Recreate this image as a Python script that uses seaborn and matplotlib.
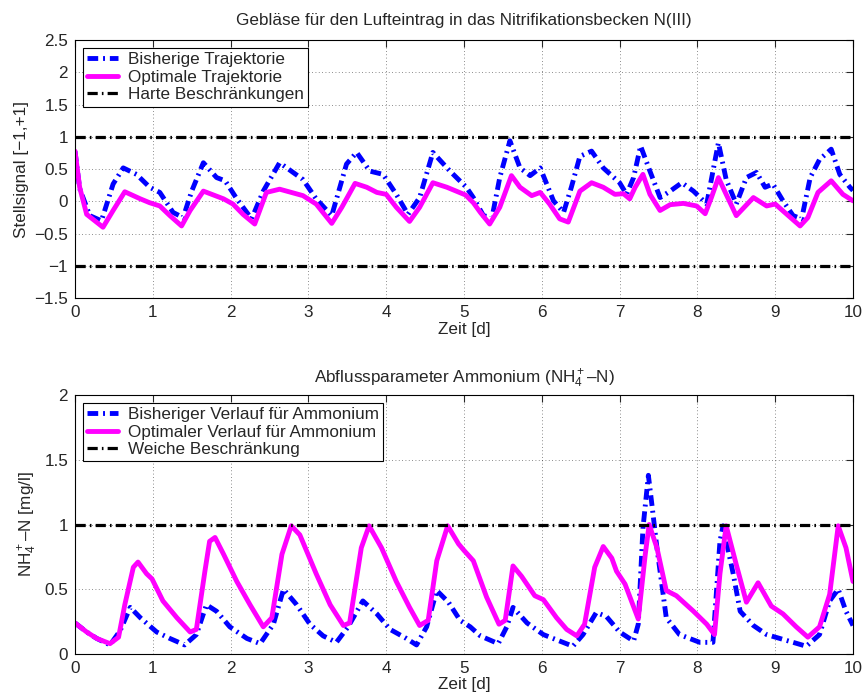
import numpy as np
import pandas as pd
import matplotlib
matplotlib.use("Agg")
import matplotlib.pyplot as plt
import seaborn as sns

# --- oberes Bild: Stellsignal Geblaese ---
t_bish_top = [0, 0.06, 0.19, 0.34, 0.49, 0.62, 0.79, 0.96, 1.09, 1.26, 1.39, 1.50, 1.65, 1.82, 1.93,
              2.08, 2.27, 2.42, 2.63, 2.93, 3.10, 3.30, 3.49, 3.62, 3.79, 3.96, 4.13, 4.28, 4.43,
              4.60, 4.82, 5.03, 5.12, 5.25, 5.36, 5.46, 5.59, 5.72, 5.85, 5.98, 6.15, 6.28, 6.38,
              6.49, 6.64, 6.79, 7.00, 7.09, 7.18, 7.27, 7.39, 7.52, 7.65, 7.80, 7.95, 8.12, 8.20,
              8.27, 8.37, 8.50, 8.63, 8.76, 8.87, 8.97, 9.10, 9.23, 9.34, 9.45, 9.57, 9.72, 9.83,
              9.96, 10.0]
u_bish_top = [0.78, 0.20, -0.22, -0.30, 0.27, 0.52, 0.42, 0.22, 0.14, -0.17, -0.25, 0.16, 0.60, 0.37,
              0.32, 0.04, -0.27, 0.16, 0.60, 0.34, 0.04, -0.22, 0.58, 0.76, 0.47, 0.42, 0.11, -0.20,
              0.06, 0.76, 0.47, 0.22, 0.06, -0.22, -0.25, 0.37, 0.94, 0.52, 0.40, 0.52, 0.01, -0.17,
              0.22, 0.70, 0.78, 0.52, 0.29, 0.11, 0.37, 0.86, 0.47, 0.06, 0.16, 0.29, 0.16, -0.04,
              0.47, 0.91, 0.34, -0.04, 0.37, 0.45, 0.22, 0.27, 0.01, -0.22, -0.27, 0.37, 0.65, 0.81,
              0.42, 0.22, 0.17]

t_opt_top = [0, 0.06, 0.15, 0.36, 0.49, 0.64, 0.84, 0.96, 1.09, 1.22, 1.37, 1.48, 1.65, 1.91, 2.03,
             2.16, 2.31, 2.46, 2.63, 2.93, 3.10, 3.30, 3.43, 3.60, 3.75, 3.88, 4.00, 4.13, 4.30,
             4.43, 4.60, 4.78, 4.90, 5.02, 5.12, 5.21, 5.33, 5.46, 5.61, 5.72, 5.87, 5.98, 6.10,
             6.23, 6.34, 6.49, 6.64, 6.79, 6.94, 7.05, 7.13, 7.20, 7.30, 7.39, 7.52, 7.65, 7.82,
             7.99, 8.10, 8.18, 8.27, 8.37, 8.50, 8.72, 8.89, 9.00, 9.15, 9.32, 9.42, 9.55, 9.72,
             9.87, 10.0]
u_opt_top = [0.78, 0.22, -0.20, -0.40, -0.14, 0.15, 0.04, -0.02, -0.07, -0.22, -0.38, -0.14, 0.16,
             0.04, -0.04, -0.20, -0.35, 0.14, 0.19, 0.09, -0.04, -0.34, -0.09, 0.28, 0.22, 0.14,
             0.11, -0.09, -0.31, -0.09, 0.29, 0.22, 0.16, 0.10, -0.02, -0.17, -0.35, -0.09, 0.40,
             0.22, 0.09, 0.14, -0.04, -0.27, -0.32, 0.16, 0.29, 0.22, 0.11, 0.12, 0.04, 0.22, 0.42,
             0.11, -0.14, -0.05, -0.03, -0.07, -0.19, 0.06, 0.37, 0.11, -0.22, 0.06, -0.07, -0.04,
             -0.20, -0.38, -0.25, 0.14, 0.32, 0.11, 0.01]

grenze_hart = [-1, 1]

# --- unteres Bild: Ammonium ---
t_bish_nh4 = [0, 0.15, 0.28, 0.45, 0.58, 0.71, 0.84, 1.05, 1.22, 1.41, 1.56, 1.69, 1.82, 1.99, 2.21,
              2.38, 2.55, 2.68, 2.85, 3.02, 3.19, 3.36, 3.51, 3.70, 3.88, 4.05, 4.26, 4.39, 4.52,
              4.65, 4.80, 4.95, 5.08, 5.21, 5.44, 5.55, 5.63, 5.81, 6.02, 6.23, 6.40, 6.53, 6.70,
              6.83, 7.00, 7.18, 7.24, 7.30, 7.37, 7.42, 7.48, 7.60, 7.77, 8.03, 8.20, 8.29, 8.33,
              8.46, 8.55, 8.72, 8.89, 9.06, 9.40, 9.57, 9.70, 9.81, 9.91, 10.0]
c_bish_nh4 = [0.24, 0.17, 0.12, 0.07, 0.18, 0.36, 0.28, 0.17, 0.12, 0.07, 0.15, 0.38, 0.33, 0.21,
              0.12, 0.08, 0.23, 0.50, 0.38, 0.23, 0.14, 0.09, 0.21, 0.41, 0.31, 0.19, 0.12, 0.07,
              0.21, 0.49, 0.40, 0.26, 0.21, 0.14, 0.08, 0.21, 0.36, 0.24, 0.15, 0.10, 0.06, 0.15,
              0.32, 0.29, 0.17, 0.10, 0.23, 0.97, 1.38, 1.13, 0.82, 0.28, 0.15, 0.09, 0.09, 0.87,
              0.99, 0.62, 0.33, 0.22, 0.15, 0.12, 0.06, 0.15, 0.41, 0.50, 0.33, 0.22]

t_opt_nh4 = [0, 0.15, 0.28, 0.45, 0.56, 0.64, 0.75, 0.81, 0.92, 0.99, 1.13, 1.31, 1.48, 1.56, 1.67,
             1.73, 1.80, 1.91, 2.08, 2.25, 2.42, 2.53, 2.66, 2.78, 2.89, 3.10, 3.28, 3.45, 3.53,
             3.68, 3.78, 3.94, 4.13, 4.30, 4.43, 4.54, 4.65, 4.79, 4.93, 5.00, 5.12, 5.29, 5.45,
             5.53, 5.63, 5.74, 5.91, 6.02, 6.19, 6.32, 6.45, 6.55, 6.68, 6.79, 6.90, 6.96, 7.07,
             7.24, 7.33, 7.38, 7.48, 7.60, 7.73, 7.95, 8.12, 8.22, 8.29, 8.37, 8.50, 8.63, 8.78,
             8.95, 9.10, 9.27, 9.42, 9.57, 9.70, 9.81, 9.91, 10.0]
c_opt_nh4 = [0.24, 0.17, 0.12, 0.08, 0.13, 0.38, 0.67, 0.71, 0.62, 0.58, 0.41, 0.28, 0.17, 0.19,
             0.64, 0.87, 0.90, 0.77, 0.56, 0.38, 0.21, 0.28, 0.77, 0.99, 0.92, 0.62, 0.38, 0.22,
             0.24, 0.82, 0.99, 0.82, 0.56, 0.36, 0.22, 0.26, 0.72, 0.99, 0.85, 0.80, 0.72, 0.44,
             0.23, 0.26, 0.68, 0.60, 0.45, 0.42, 0.28, 0.19, 0.14, 0.23, 0.67, 0.83, 0.74, 0.64,
             0.54, 0.27, 0.77, 1.00, 0.82, 0.49, 0.45, 0.33, 0.23, 0.15, 0.62, 0.99, 0.69, 0.40,
             0.55, 0.37, 0.31, 0.21, 0.13, 0.21, 0.46, 0.99, 0.82, 0.56]

grenze_weich = 1.0

sns.set_style("white")
plt.rcParams['font.family'] = ['Liberation Sans', 'DejaVu Sans']
plt.rcParams['mathtext.fontset'] = 'custom'
plt.rcParams['mathtext.rm'] = 'Liberation Sans'
plt.rcParams['mathtext.it'] = 'Liberation Sans'
fs = 12.3

blau_ls = (0, (2.2, 1.0, 0.4, 1.0))
schwarz_ls = (0, (3.2, 1.3, 0.5, 1.3))
linien = dict(solid_joinstyle="round", dash_joinstyle="round", estimator=None)

fig = plt.figure(figsize=(8.63, 7.0), dpi=100)
ax1 = fig.add_axes([0.0869, 0.574, 0.9015, 0.3686])
ax2 = fig.add_axes([0.0869, 0.0657, 0.9015, 0.370])

df_b1 = pd.DataFrame({"t": t_bish_top, "u": u_bish_top})
df_o1 = pd.DataFrame({"t": t_opt_top, "u": u_opt_top})
sns.lineplot(data=df_b1, x="t", y="u", ax=ax1, color="#0000ff", lw=3.5,
             linestyle=blau_ls, label="Bisherige Trajektorie", **linien)
sns.lineplot(data=df_o1, x="t", y="u", ax=ax1, color="#ff00ff", lw=3.5,
             label="Optimale Trajektorie", **linien)
for i, g in enumerate(grenze_hart):
    ax1.axhline(g, color="black", lw=2.3, linestyle=schwarz_ls,
                label="Harte Beschränkungen" if i == 0 else None)

df_b2 = pd.DataFrame({"t": t_bish_nh4, "c": c_bish_nh4})
df_o2 = pd.DataFrame({"t": t_opt_nh4, "c": c_opt_nh4})
sns.lineplot(data=df_b2, x="t", y="c", ax=ax2, color="#0000ff", lw=3.5,
             linestyle=blau_ls, label="Bisheriger Verlauf für Ammonium", **linien)
sns.lineplot(data=df_o2, x="t", y="c", ax=ax2, color="#ff00ff", lw=3.5,
             label="Optimaler Verlauf für Ammonium", **linien)
ax2.axhline(grenze_weich, color="black", lw=2.3, linestyle=schwarz_ls,
            label="Weiche Beschränkung")

ax1.set_xlim(0, 10)
ax1.set_ylim(-1.5, 2.5)
ax1.set_yticks(np.arange(-1.5, 2.51, 0.5))
ax1.set_yticklabels(["−1.5", "−1", "−0.5", "0", "0.5", "1", "1.5", "2", "2.5"])
ax1.set_title("Gebläse für den Lufteintrag in das Nitrifikationsbecken N(III)", fontsize=fs, pad=11)
ax1.set_ylabel("Stellsignal [−1,+1]", fontsize=fs, labelpad=4)

ax2.set_xlim(0, 10)
ax2.set_ylim(0, 2)
ax2.set_yticks([0, 0.5, 1, 1.5, 2])
ax2.set_yticklabels(["0", "0.5", "1", "1.5", "2"])
ax2.set_title(r"Abflussparameter Ammonium (NH$_4^+$–N)", fontsize=fs, pad=9)
ax2.set_ylabel(r"NH$_4^+$–N [mg/l]", fontsize=fs, labelpad=4)

for ax in (ax1, ax2):
    ax.set_xticks(range(0, 11))
    ax.set_xlabel("Zeit [d]", fontsize=fs, labelpad=1)
    ax.grid(True, linestyle=(0, (1, 3)), color="black", lw=0.6, alpha=0.6)
    ax.tick_params(direction="in", top=True, right=True, length=5, width=0.8,
                   labelsize=fs, pad=5)
    for s in ax.spines.values():
        s.set_color("black")
        s.set_linewidth(0.8)
    leg = ax.legend(loc="upper left", fancybox=False, edgecolor="black", framealpha=1,
                    borderaxespad=0.45, handlelength=1.8, handletextpad=0.6,
                    labelspacing=0.15, borderpad=0.25, fontsize=fs)
    leg.get_frame().set_linewidth(0.8)

fig.savefig("out.png", dpi=100)
